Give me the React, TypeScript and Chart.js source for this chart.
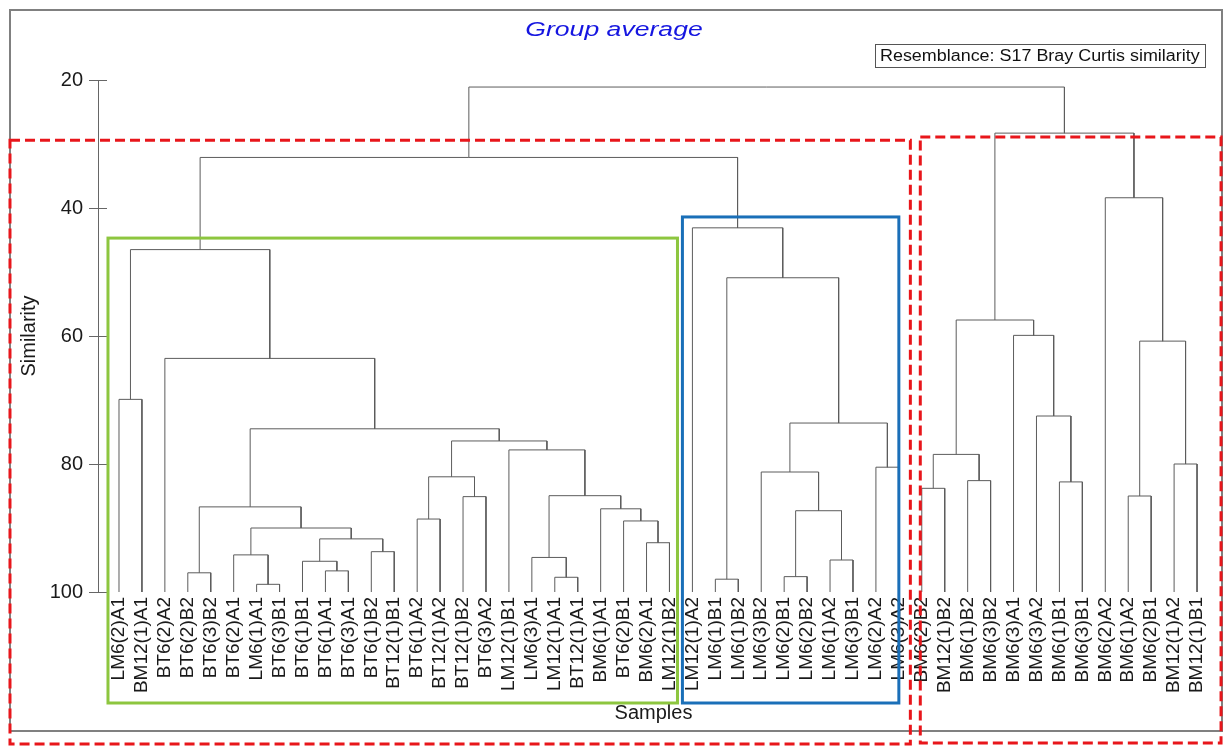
import React, { useEffect, useRef } from 'react';
import { Chart, registerables } from 'chart.js';

Chart.register(...registerables);

// ---- DATA ----
const leafLabels = [
  'LM6(2)A1', 'BM12(1)A1', 'BT6(2)A2', 'BT6(2)B2', 'BT6(3)B2', 'BT6(2)A1', 'LM6(1)A1', 'BT6(3)B1',
  'BT6(1)B1', 'BT6(1)A1', 'BT6(3)A1', 'BT6(1)B2', 'BT12(1)B1', 'BT6(1)A2', 'BT12(1)A2', 'BT12(1)B2',
  'BT6(3)A2', 'LM12(1)B1', 'LM6(3)A1', 'LM12(1)A1', 'BT12(1)A1', 'BM6(1)A1', 'BT6(2)B1', 'BM6(2)A1',
  'LM12(1)B2', 'LM12(1)A2', 'LM6(1)B1', 'LM6(1)B2', 'LM6(3)B2', 'LM6(2)B1', 'LM6(2)B2', 'LM6(1)A2',
  'LM6(3)B1', 'LM6(2)A2', 'LM6(3)A2', 'BM6(2)B2', 'BM12(1)B2', 'BM6(1)B2', 'BM6(3)B2', 'BM6(3)A1',
  'BM6(3)A2', 'BM6(1)B1', 'BM6(3)B1', 'BM6(2)A2', 'BM6(1)A2', 'BM6(2)B1', 'BM12(1)A2', 'BM12(1)B1',
];

// Merges: child ids < 48 are leaves, ids >= 48 refer to merge (id - 48)
const mergeLeft = [
  0, 3, 6, 5, 9, 8, 11, 53, 51, 49, 13, 15, 58, 19, 18, 23, 22, 21, 62, 17, 60, 57, 2, 48,
  26, 29, 31, 73, 28, 33, 76, 72, 25, 71,
  35, 37, 82, 41, 40, 39, 84, 44, 46, 89, 43, 88, 81,
];
const mergeRight = [
  1, 4, 7, 50, 10, 52, 12, 54, 55, 56, 14, 16, 59, 20, 61, 24, 63, 64, 65, 66, 67, 68, 69, 70,
  27, 30, 32, 74, 75, 34, 77, 78, 79, 80,
  36, 38, 83, 42, 85, 86, 87, 45, 47, 90, 91, 92, 93,
];
const mergeSimilarity = [
  69.9, 97.0, 98.8, 94.2, 96.7, 95.2, 93.7, 91.7, 90.0, 86.7, 88.6, 85.1, 82.0, 97.7, 94.6, 92.3,
  88.9, 87.0, 84.95, 77.8, 76.4, 74.5, 63.5, 46.5,
  98.0, 97.6, 95.0, 87.3, 81.25, 80.5, 73.6, 50.9, 43.1, 32.1,
  83.8, 82.6, 78.5, 82.8, 72.5, 59.9, 57.5, 85.0, 80.0, 60.8, 38.4, 28.3, 21.1,
];

const yTicks = [20, 40, 60, 80, 100];

// highlighted groups: first leaf, last leaf, cut similarity
const groupFirstLeaf = [0, 35, 0, 25];
const groupLastLeaf = [34, 47, 24, 34];
const groupCutSimilarity = [29.4, 28.9, 44.7, 41.4];

const titleText = 'Group average';
const resemblanceText = 'Resemblance: S17 Bray Curtis similarity';

// ---- STYLES ----
const FONT = "Arial, 'Liberation Sans', Helvetica, sans-serif";
const groupStyles = [
  { color: '#e8161b', width: 3, dash: [10, 5], padL: 109, padR: 11.5, bottomFromEnd: 3 },
  { color: '#e8161b', width: 3, dash: [10, 5], padL: 1.5, padR: 24, bottomFromEnd: 4 },
  { color: '#8dc63f', width: 3, dash: [] as number[], padL: 11, padR: 8, bottomFromEnd: 44 },
  { color: '#1a6fb8', width: 3, dash: [] as number[], padL: 10, padR: 0, bottomFromEnd: 44 },
];

function buildSegments() {
  const nodeX: number[] = leafLabels.map((_, i) => i);
  const nodeSim: number[] = leafLabels.map(() => 100);
  const pts: { x: number; y: number | null }[] = [];
  for (let k = 0; k < mergeSimilarity.length; k++) {
    const a = mergeLeft[k];
    const b = mergeRight[k];
    const h = mergeSimilarity[k];
    const xa = nodeX[a];
    const xb = nodeX[b];
    pts.push({ x: xa, y: nodeSim[a] }, { x: xa, y: h }, { x: xb, y: h }, { x: xb, y: nodeSim[b] }, { x: xb, y: null });
    nodeX.push((xa + xb) / 2);
    nodeSim.push(h);
  }
  return pts;
}

const decorPlugin = {
  id: 'decor',
  beforeDraw(chart: any) {
    const ctx = chart.ctx;
    ctx.save();
    ctx.strokeStyle = '#808080';
    ctx.lineWidth = 2;
    ctx.strokeRect(10, 10, 1212, 721);
    ctx.restore();
  },
  afterDraw(chart: any) {
    const ctx = chart.ctx;
    const xs = chart.scales.x;
    const ys = chart.scales.y;
    ctx.save();
    // inner halves of y ticks
    ctx.strokeStyle = '#666';
    ctx.lineWidth = 1;
    for (const v of yTicks) {
      const py = Math.round(ys.getPixelForValue(v)) + 0.5;
      ctx.beginPath();
      ctx.moveTo(chart.chartArea.left, py);
      ctx.lineTo(chart.chartArea.left + 9, py);
      ctx.stroke();
    }
    // title
    ctx.fillStyle = '#1515e0';
    ctx.font = `italic 20px ${FONT}`;
    ctx.textAlign = 'center';
    ctx.textBaseline = 'middle';
    ctx.save();
    ctx.translate(614, 30);
    ctx.scale(1.33, 1);
    ctx.fillText(titleText, 0, 0);
    ctx.restore();
    // resemblance box
    ctx.strokeStyle = '#555';
    ctx.lineWidth = 1;
    ctx.strokeRect(875.5, 44.5, 330, 23);
    ctx.fillStyle = '#111';
    ctx.font = `16px ${FONT}`;
    ctx.textAlign = 'left';
    ctx.save();
    ctx.translate(880, 56.5);
    ctx.scale(1.12, 1);
    ctx.fillText(resemblanceText, 0, 0);
    ctx.restore();
    // group boxes
    for (let g = 0; g < groupFirstLeaf.length; g++) {
      const st = groupStyles[g];
      const x0 = xs.getPixelForValue(groupFirstLeaf[g]) - st.padL;
      const x1 = xs.getPixelForValue(groupLastLeaf[g]) + st.padR;
      const y0 = ys.getPixelForValue(groupCutSimilarity[g]);
      const y1 = chart.height - st.bottomFromEnd;
      ctx.strokeStyle = st.color;
      ctx.lineWidth = st.width;
      ctx.setLineDash(st.dash);
      ctx.strokeRect(x0, y0, x1 - x0, y1 - y0);
    }
    ctx.restore();
  },
};

export default function App() {
  const ref = useRef<HTMLCanvasElement | null>(null);
  useEffect(() => {
    if (!ref.current) return;
    const chart = new Chart(ref.current, {
      type: 'line',
      data: {
        datasets: [
          {
            data: buildSegments() as any,
            borderColor: '#5c5c5c',
            borderWidth: 1,
            pointRadius: 0,
            tension: 0,
            spanGaps: false,
            fill: false,
          },
        ],
      },
      options: {
        animation: false,
        responsive: false,
        devicePixelRatio: 1,
        layout: { padding: { left: 10, right: 15, top: 80, bottom: 22 } },
        plugins: { legend: { display: false }, tooltip: { enabled: false }, title: { display: false } },
        scales: {
          x: {
            type: 'linear',
            min: -0.915,
            max: 47.52,
            afterBuildTicks: (scale: any) => {
              scale.ticks = leafLabels.map((_, i) => ({ value: i }));
            },
            afterFit: (scale: any) => {
              scale.height = 133;
            },
            ticks: {
              autoSkip: false,
              minRotation: 90,
              maxRotation: 90,
              padding: 5,
              color: '#1a1a1a',
              font: { family: FONT, size: 19 },
              callback: (v: any) => leafLabels[v as number] ?? '',
            },
            grid: { display: false, drawTicks: false },
            border: { display: false },
            title: {
              display: true,
              text: 'Samples',
              color: '#1a1a1a',
              font: { family: FONT, size: 20 },
              padding: { top: 0, bottom: 0 },
            },
          },
          y: {
            type: 'linear',
            min: 20,
            max: 100,
            reverse: true,
            afterBuildTicks: (scale: any) => {
              scale.ticks = yTicks.map((v) => ({ value: v }));
            },
            afterFit: (scale: any) => {
              scale.width = 88;
            },
            ticks: { color: '#1a1a1a', padding: 6, font: { family: FONT, size: 20 } },
            grid: { drawOnChartArea: false, tickLength: 9, color: '#666', lineWidth: 1 },
            border: { display: true, color: '#666', width: 1 },
            title: {
              display: true,
              text: 'Similarity',
              color: '#1a1a1a',
              font: { family: FONT, size: 20 },
              padding: { top: 7, bottom: 0 },
            },
          },
        },
      },
      plugins: [decorPlugin],
    });
    return () => chart.destroy();
  }, []);
  return (
    <div style={{ position: 'absolute', left: 0, top: 0, width: 1225, height: 747, background: '#fff' }}>
      <canvas ref={ref} width={1225} height={747} style={{ display: 'block' }} />
    </div>
  );
}
